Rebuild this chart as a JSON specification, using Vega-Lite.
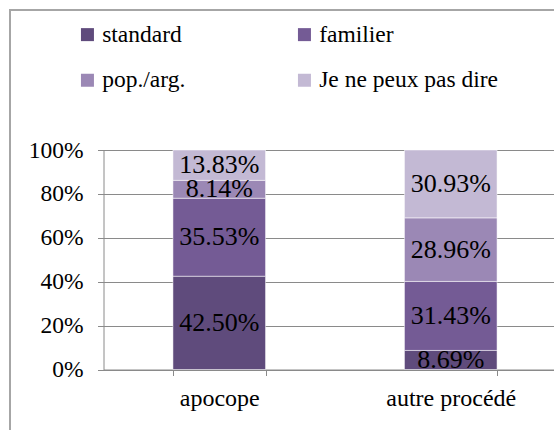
{
  "$schema": "https://vega.github.io/schema/vega-lite/v6.json",
  "autosize": {"type": "none"},
  "padding": {"left": 10, "top": 10, "right": 0, "bottom": 0},
  "width": 600,
  "height": 500,
  "background": "white",
  "config": {
    "view": {"stroke": "#a6a6a6", "strokeWidth": 2},
    "font": "Liberation Serif, Times New Roman, serif"
  },
  "data": {
    "values": [
      {"procede": "apocope", "registre": "standard", "k": 1, "part": 0.4250},
      {"procede": "apocope", "registre": "familier", "k": 2, "part": 0.3553},
      {"procede": "apocope", "registre": "pop./arg.", "k": 3, "part": 0.0814},
      {"procede": "apocope", "registre": "Je ne peux pas dire", "k": 4, "part": 0.1383},
      {"procede": "autre procédé", "registre": "standard", "k": 1, "part": 0.0869},
      {"procede": "autre procédé", "registre": "familier", "k": 2, "part": 0.3143},
      {"procede": "autre procédé", "registre": "pop./arg.", "k": 3, "part": 0.2896},
      {"procede": "autre procédé", "registre": "Je ne peux pas dire", "k": 4, "part": 0.3093}
    ]
  },
  "encoding": {
    "x": {
      "field": "procede",
      "type": "nominal",
      "sort": ["apocope", "autre procédé"],
      "scale": {"range": [93.5, 556.5], "paddingInner": 0.6, "paddingOuter": 0.3},
      "axis": {
        "orient": "bottom",
        "offset": -140.5,
        "title": null,
        "labelAngle": 0,
        "tickBand": "extent",
        "tickSize": 6,
        "tickColor": "#8a8a8a",
        "domainColor": "#8a8a8a",
        "labelFont": "Liberation Serif, Times New Roman, serif",
        "labelFontSize": 24,
        "labelColor": "black",
        "labelBaseline": "alphabetic",
        "labelPadding": 30,
        "grid": false
      }
    },
    "y": {
      "field": "part",
      "type": "quantitative",
      "stack": "zero",
      "scale": {"domain": [0, 1], "range": [359.5, 140], "nice": false},
      "axis": {
        "orient": "left",
        "offset": -93.5,
        "title": null,
        "format": ".0%",
        "values": [0, 0.2, 0.4, 0.6, 0.8, 1],
        "grid": true,
        "gridColor": "#8a8a8a",
        "domainColor": "#8a8a8a",
        "tickColor": "#8a8a8a",
        "tickSize": 6,
        "labelFont": "Liberation Serif, Times New Roman, serif",
        "labelFontSize": 23.5,
        "labelColor": "black",
        "labelPadding": 14.5
      }
    },
    "order": {"field": "k", "type": "quantitative", "sort": "ascending"}
  },
  "layer": [
    {
      "mark": {"type": "bar", "stroke": "white", "strokeWidth": 1, "strokeOpacity": 0.5},
      "encoding": {
        "color": {
          "field": "registre",
          "type": "nominal",
          "scale": {
            "domain": ["standard", "familier", "pop./arg.", "Je ne peux pas dire"],
            "range": ["#5f4b7c", "#745b95", "#9b88b5", "#c3b9d4"]
          },
          "legend": {
            "orient": "none",
            "legendX": 65.7,
            "legendY": 12.5,
            "title": null,
            "columns": 2,
            "values": ["standard", "pop./arg.", "familier", "Je ne peux pas dire"],
            "symbolType": "square",
            "symbolSize": 169,
            "symbolStrokeWidth": 0,
            "labelFont": "Liberation Serif, Times New Roman, serif",
            "labelFontSize": 23.5,
            "labelColor": "black",
            "labelOffset": 3,
            "labelLimit": 400,
            "columnPadding": 107,
            "rowPadding": 21,
            "padding": 0
          }
        }
      }
    },
    {
      "mark": {"type": "text", "font": "Liberation Serif, Times New Roman, serif", "fontSize": 26, "color": "black", "baseline": "middle", "align": "center"},
      "encoding": {
        "y": {"field": "part", "type": "quantitative", "stack": "zero", "bandPosition": 0.5},
        "detail": {"field": "registre"},
        "text": {"field": "part", "type": "quantitative", "format": ".2%"}
      }
    }
  ]
}
